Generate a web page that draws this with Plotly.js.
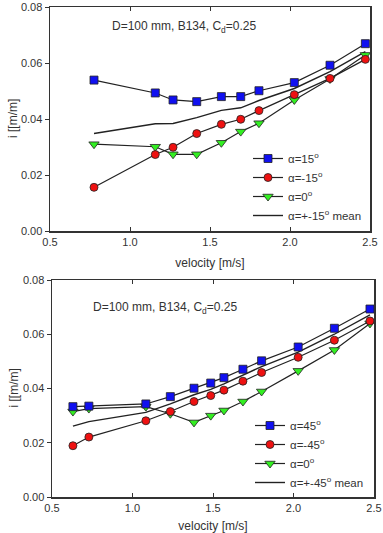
<!DOCTYPE html>
<html>
<head>
<meta charset="utf-8">
<script src="https://cdn.plot.ly/plotly-3.0.1.min.js"></script>
<style>
  html, body { margin: 0; padding: 0; background: #fff; }
  #chart { width: 383px; height: 533px; }
</style>
</head>
<body>
<div id="chart"></div>
<script>
// Hydraulic gradient i [m/m] vs. velocity, D=100 mm, B134, Cd=0.25

// Upper panel: inclination +15°, -15°, 0°
const velTop = [0.775, 1.158, 1.269, 1.417, 1.571, 1.692, 1.806, 2.027, 2.250, 2.471];
const iTopPos15 = [0.0539, 0.0493, 0.0468, 0.0462, 0.0480, 0.0480, 0.0501, 0.0530, 0.0592, 0.0669];
const iTopNeg15 = [0.0156, 0.0273, 0.0299, 0.0348, 0.0381, 0.0399, 0.0430, 0.0487, 0.0545, 0.0613];
const iTopZero  = [0.0310, 0.0301, 0.0274, 0.0274, 0.0315, 0.0355, 0.0385, 0.0468, 0.0543, 0.0629];
const iTopMean  = [0.0348, 0.0383, 0.0384, 0.0405, 0.0431, 0.0440, 0.0466, 0.0509, 0.0569, 0.0641];

// Lower panel: inclination +45°, -45°, 0°
const velBot = [0.630, 0.729, 1.083, 1.235, 1.382, 1.486, 1.568, 1.686, 1.802, 2.029, 2.254, 2.475];
const iBotPos45 = [0.0333, 0.0335, 0.0343, 0.0370, 0.0401, 0.0420, 0.0440, 0.0471, 0.0502, 0.0553, 0.0622, 0.0693];
const iBotNeg45 = [0.0189, 0.0221, 0.0281, 0.0315, 0.0352, 0.0374, 0.0394, 0.0427, 0.0459, 0.0515, 0.0578, 0.0649];
const iBotZero  = [0.0315, 0.0326, 0.0333, 0.0307, 0.0275, 0.0300, 0.0319, 0.0352, 0.0389, 0.0465, 0.0542, 0.0640];
const iBotMean  = [0.0261, 0.0278, 0.0312, 0.0343, 0.0377, 0.0397, 0.0417, 0.0449, 0.0481, 0.0534, 0.0600, 0.0671];

const topNames = ['α=15<sup>o</sup>', 'α=-15<sup>o</sup>', 'α=0<sup>o</sup>', 'α=+-15<sup>o</sup> mean'];
const botNames = ['α=45<sup>o</sup>', 'α=-45<sup>o</sup>', 'α=0<sup>o</sup>', 'α=+-45<sup>o</sup> mean'];
const panelNote = 'D=100 mm, B134, C<sub>d</sub>=0.25';
const xTitle = 'velocity [m/s]';
const yTitle = 'i [[m/m]';

const FONT = 'Arial, "Liberation Sans", sans-serif';
const AX = '#333333';
const LINE = '#222222';

function series(x, y, name, symbol, color, xa, ya, leg) {
  return {
    x: x, y: y, name: name, type: 'scatter', mode: 'lines+markers',
    xaxis: xa, yaxis: ya, legend: leg,
    line: { color: LINE, width: 1.2 },
    marker: { symbol: symbol, size: symbol === 'triangle-down' ? 9 : 8, color: color,
              line: { color: '#222222', width: 0.8 } }
  };
}
function meanLine(x, y, name, xa, ya, leg) {
  return { x: x, y: y, name: name, type: 'scatter', mode: 'lines',
           xaxis: xa, yaxis: ya, legend: leg, line: { color: LINE, width: 1.4 } };
}

const BLUE = '#1010f0', RED = '#ee1111', GREEN = '#33ee22';

const data = [
  meanLine(velTop, iTopMean, topNames[3], 'x', 'y', 'legend'),
  series(velTop, iTopZero, topNames[2], 'triangle-down', GREEN, 'x', 'y', 'legend'),
  series(velTop, iTopNeg15, topNames[1], 'circle', RED, 'x', 'y', 'legend'),
  series(velTop, iTopPos15, topNames[0], 'square', BLUE, 'x', 'y', 'legend'),
  meanLine(velBot, iBotMean, botNames[3], 'x2', 'y2', 'legend2'),
  series(velBot, iBotZero, botNames[2], 'triangle-down', GREEN, 'x2', 'y2', 'legend2'),
  series(velBot, iBotNeg45, botNames[1], 'circle', RED, 'x2', 'y2', 'legend2'),
  series(velBot, iBotPos45, botNames[0], 'square', BLUE, 'x2', 'y2', 'legend2')
];

const W = 383, H = 533;
const tickFont = { family: FONT, size: 11, color: '#333' };
const titleFont = { family: FONT, size: 12, color: '#333' };

function xAxis(domain, anchor) {
  return {
    domain: domain, anchor: anchor, range: [0.5, 2.5], dtick: 0.5, tick0: 0.5,
    tickformat: '.1f', ticks: 'inside', ticklen: 4, tickcolor: AX, tickwidth: 1,
    showline: true, linecolor: AX, linewidth: 1.5, mirror: 'ticks',
    showgrid: false, zeroline: false, tickfont: tickFont,
    title: { text: xTitle, font: titleFont, standoff: 12 }
  };
}
function yAxis(domain, anchor) {
  return {
    domain: domain, anchor: anchor, range: [0, 0.08], dtick: 0.02, tick0: 0,
    tickformat: '.2f', ticks: 'outside', ticklen: 4, tickcolor: AX, tickwidth: 1,
    showline: true, linecolor: AX, linewidth: 1.5, mirror: true,
    showgrid: false, zeroline: false, tickfont: tickFont
  };
}
function rightTicks(over, anchor, domain) {
  return {
    overlaying: over, anchor: anchor, side: 'right', domain: domain,
    range: [0, 0.08], dtick: 0.02, tick0: 0, ticks: 'inside', ticklen: 4,
    tickcolor: AX, tickwidth: 1, showticklabels: false, showline: false,
    showgrid: false, zeroline: false
  };
}

const topX = [50 / W, 370 / W], topY = [1 - 231 / H, 1 - 7 / H];
const botX = [52 / W, 374 / W], botY = [1 - 497 / H, 1 - 280 / H];

const legendFont = { family: FONT, size: 11.5, color: '#333' };

// vertical y-axis titles, one per panel, centred on each plot area
function yTitleNote(domain) {
  return { text: yTitle, xref: 'paper', yref: 'paper', x: 13 / W,
           y: (domain[0] + domain[1]) / 2, xanchor: 'center', yanchor: 'middle',
           textangle: -90, showarrow: false, font: titleFont };
}

const layout = {
  width: W, height: H,
  margin: { l: 0, r: 0, t: 0, b: 0 },
  paper_bgcolor: '#fff', plot_bgcolor: '#fff',
  showlegend: true,
  xaxis: xAxis(topX, 'y'),
  yaxis: yAxis(topY, 'x'),
  xaxis2: xAxis(botX, 'y2'),
  yaxis2: yAxis(botY, 'x2'),
  yaxis3: rightTicks('y', 'x', topY),
  yaxis4: rightTicks('y2', 'x2', botY),
  legend: {
    x: 248 / W, y: 1 - 144 / H, xanchor: 'left', yanchor: 'top',
    bgcolor: 'rgba(0,0,0,0)', borderwidth: 0, font: legendFont,
    traceorder: 'reversed'
  },
  legend2: {
    x: 250 / W, y: 1 - 411 / H, xanchor: 'left', yanchor: 'top',
    bgcolor: 'rgba(0,0,0,0)', borderwidth: 0, font: legendFont,
    traceorder: 'reversed'
  },
  annotations: [
    { text: panelNote, xref: 'paper', yref: 'paper', x: 110 / W, y: 1 - 27 / H,
      xanchor: 'left', yanchor: 'middle', showarrow: false,
      font: { family: FONT, size: 12, color: '#333' } },
    { text: panelNote, xref: 'paper', yref: 'paper', x: 91 / W, y: 1 - 308 / H,
      xanchor: 'left', yanchor: 'middle', showarrow: false,
      font: { family: FONT, size: 12, color: '#333' } },
    yTitleNote(topY),
    yTitleNote(botY)
  ]
};

Plotly.newPlot('chart', data, layout, { staticPlot: true, displayModeBar: false });
</script>
</body>
</html>
